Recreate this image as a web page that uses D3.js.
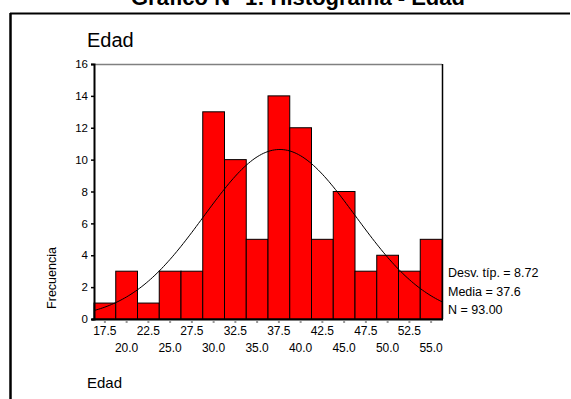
<!DOCTYPE html>
<html>
<head>
<meta charset="utf-8">
<script src="https://cdn.jsdelivr.net/npm/d3@7"></script>
<style>
  body { margin: 0; background: #fff; }
  svg { font-family: "Liberation Sans", Arial, sans-serif; display: block; }
</style>
</head>
<body>
<div id="holder"></div>
<script>
const w = 571;
const h = 399;

// DATA
const binCenters = [17.5, 20, 22.5, 25, 27.5, 30, 32.5, 35, 37.5, 40, 42.5, 45, 47.5, 50, 52.5, 55];
const counts = [1, 3, 1, 3, 3, 13, 10, 5, 14, 12, 5, 8, 3, 4, 3, 5];
const yTicks = [0, 2, 4, 6, 8, 10, 12, 14, 16];
const binWidth = 2.5;
const mean = 37.6;
const sd = 8.72;
const n = 93;
const statLines = ["Desv. típ. = 8.72", "Media = 37.6", "N = 93.00"];

// PLOT BOX
const pLeft = 94, pRight = 442, pTop = 64, pBottom = 319;

const svg = d3.select("#holder")
    .append("svg")
    .attr("width", w)
    .attr("height", h);

// outer frame
svg.append("line").attr("x1", 10).attr("x2", 570).attr("y1", 13.5).attr("y2", 13.5)
    .attr("stroke", "#000").attr("stroke-width", 2);
svg.append("line").attr("x1", 10.5).attr("x2", 10.5).attr("y1", 13).attr("y2", h)
    .attr("stroke", "#000").attr("stroke-width", 2.5);

// top title (cut off like the reference)
svg.append("text")
    .attr("x", 298).attr("y", 5)
    .attr("text-anchor", "middle")
    .attr("font-size", 22).attr("font-weight", "bold")
    .text("Gráfico N° 1: Histograma - Edad");

svg.append("text").attr("x", 87).attr("y", 47)
    .attr("font-size", 20).text("Edad");

svg.append("text").attr("x", 87).attr("y", 388)
    .attr("font-size", 15).text("Edad");

// SCALES
const xScale = d3.scaleLinear()
    .domain([binCenters[0] - binWidth / 2, binCenters[binCenters.length - 1] + binWidth / 2])
    .range([pLeft, pRight]);

const yScale = d3.scaleLinear()
    .domain([0, 16])
    .range([pBottom, pTop]);

// frame of plot
svg.append("line").attr("x1", pLeft).attr("x2", pRight).attr("y1", pTop + 0.5).attr("y2", pTop + 0.5)
    .attr("stroke", "#808080").attr("stroke-width", 1.5);
svg.append("line").attr("x1", pRight + 0.5).attr("x2", pRight + 0.5).attr("y1", pTop).attr("y2", pBottom)
    .attr("stroke", "#000").attr("stroke-width", 1.5);

// BARS
svg.selectAll("rect.bar")
    .data(binCenters)
    .enter()
    .append("rect")
    .attr("class", "bar")
    .attr("x", (d) => xScale(d - binWidth / 2))
    .attr("y", (d, i) => yScale(counts[i]))
    .attr("width", (d) => xScale(d + binWidth / 2) - xScale(d - binWidth / 2))
    .attr("height", (d, i) => yScale(0) - yScale(counts[i]))
    .attr("fill", "#ff0000")
    .attr("stroke", "#000")
    .attr("stroke-width", 1);

// NORMAL CURVE
const xs = d3.range(xScale.domain()[0], xScale.domain()[1] + 0.01, 0.25);
const normal = (x) => n * binWidth / (sd * Math.sqrt(2 * Math.PI)) * Math.exp(-0.5 * ((x - mean) / sd) ** 2);
svg.append("path")
    .datum(xs)
    .attr("fill", "none")
    .attr("stroke", "#000")
    .attr("stroke-width", 1)
    .attr("d", d3.line().x((d) => xScale(d)).y((d) => yScale(normal(d))));

// Y AXIS
const yAxis = d3.axisLeft(yScale).tickValues(yTicks).tickSize(3).tickPadding(3);
const gy = svg.append("g")
    .attr("transform", "translate(" + pLeft + ",0)")
    .call(yAxis);
gy.select(".domain").attr("stroke-width", 2);
gy.selectAll("text").attr("font-size", 11.5).attr("font-family", "Liberation Sans, Arial, sans-serif");
gy.selectAll(".tick line").attr("stroke-width", 1.5);

svg.append("text")
    .attr("transform", "translate(56,278) rotate(-90)")
    .attr("text-anchor", "middle")
    .attr("font-size", 12.5)
    .text("Frecuencia");

// X AXIS
svg.append("line").attr("x1", pLeft - 2).attr("x2", pRight + 1).attr("y1", pBottom + 0.5).attr("y2", pBottom + 0.5)
    .attr("stroke", "#000").attr("stroke-width", 2);

svg.selectAll("line.xtick")
    .data(binCenters)
    .enter()
    .append("line")
    .attr("class", "xtick")
    .attr("x1", (d) => xScale(d)).attr("x2", (d) => xScale(d))
    .attr("y1", pBottom + 2).attr("y2", pBottom + 4)
    .attr("stroke", "#999").attr("stroke-width", 2);

svg.selectAll("text.xlab")
    .data(binCenters)
    .enter()
    .append("text")
    .attr("class", "xlab")
    .attr("x", (d) => xScale(d))
    .attr("y", (d, i) => i % 2 === 0 ? 335 : 352)
    .attr("text-anchor", "middle")
    .attr("font-size", 12)
    .text((d) => d.toFixed(1));

// STATS
svg.selectAll("text.stat")
    .data(statLines)
    .enter()
    .append("text")
    .attr("class", "stat")
    .attr("x", 448)
    .attr("y", (d, i) => 277 + i * 18.5)
    .attr("font-size", 12.5)
    .text((d) => d);
</script>
</body>
</html>
